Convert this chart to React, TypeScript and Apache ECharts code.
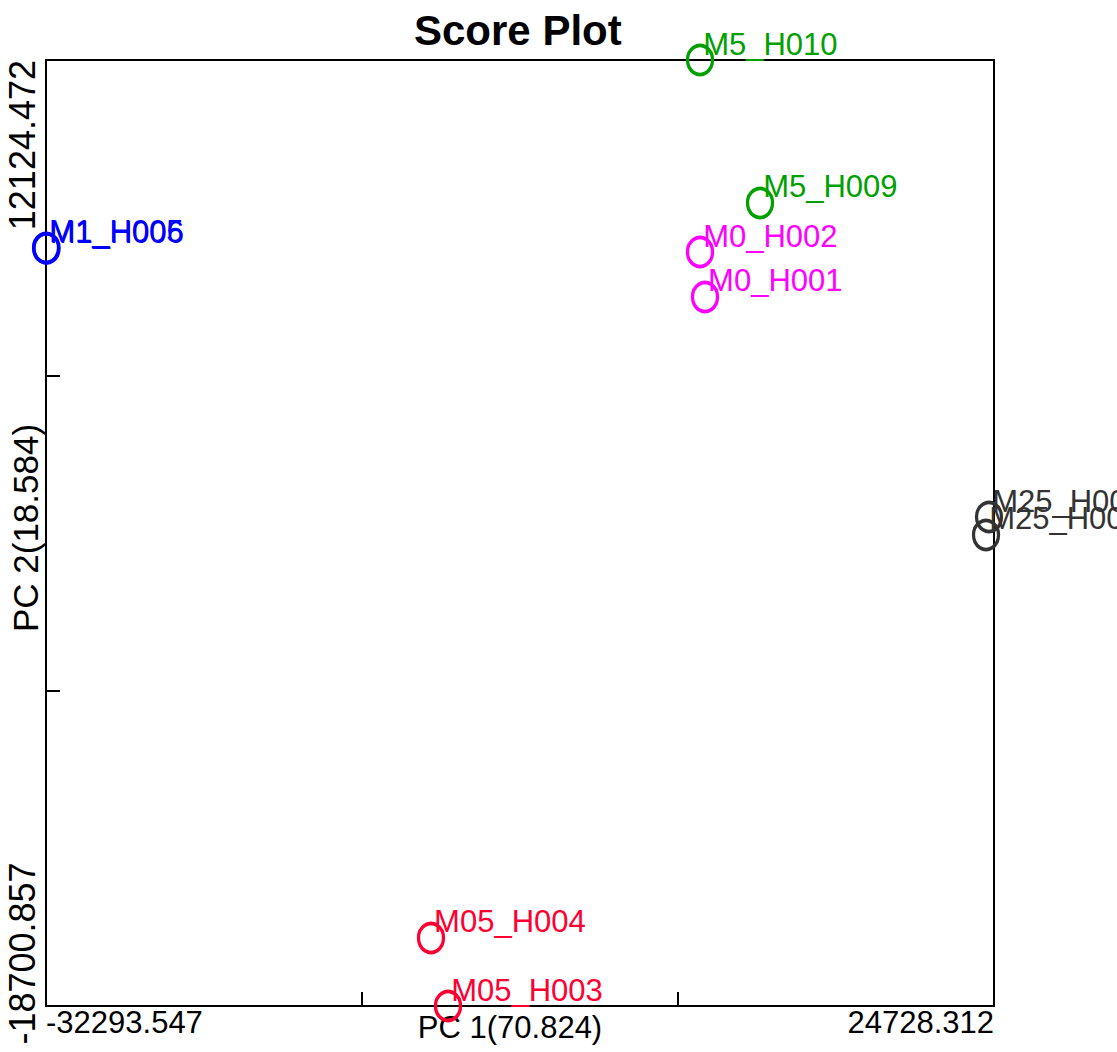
import React, { useEffect, useRef } from "react";
import * as echarts from "echarts";

const TITLE = "Score Plot";
const X_NAME = "PC 1(70.824)";
const Y_NAME = "PC 2(18.584)";
const X_MIN = -32293.547;
const X_MAX = 24728.312;
const Y_MIN = -18700.857;
const Y_MAX = 12124.472;

const GROUPS = ["M0", "M05", "M1", "M25", "M5"];
const GROUP_COLORS = ["#FF00FF", "#FF0033", "#0000FF", "#333333", "#00A000"];
const SAMPLE_NAMES = [
  ["M0_H001", "M0_H002"],
  ["M05_H003", "M05_H004"],
  ["M1_H005", "M1_H006"],
  ["M25_H007", "M25_H008"],
  ["M5_H009", "M5_H010"],
];
const PC1 = [
  [7345, 7045],
  [-8113, -9136],
  [-32293.547, -32260],
  [24428, 24248],
  [10654, 7045],
];
const PC2 = [
  [4402, 5868],
  [-18700.857, -16485],
  [6000, 5990],
  [-2767, -3353],
  [7465, 12124.472],
];

const FONT = "'Liberation Sans', Arial, sans-serif";

export default function App() {
  const ref = useRef<HTMLDivElement>(null);
  useEffect(() => {
    if (!ref.current) return;
    const chart = echarts.init(ref.current, undefined, { renderer: "svg" });
    const xr = X_MAX - X_MIN;
    const yr = Y_MAX - Y_MIN;
    const xTicks = [X_MIN, X_MIN + xr / 3, X_MIN + (2 * xr) / 3, X_MAX];
    const yTicks = [Y_MIN, Y_MIN + yr / 3, Y_MIN + (2 * yr) / 3, Y_MAX];
    const series = GROUPS.map((g, gi) => ({
      type: "scatter",
      name: g,
      symbol: "circle",
      symbolSize: [25, 29],
      itemStyle: { color: "rgba(0,0,0,0)", borderWidth: 3.5, borderColor: GROUP_COLORS[gi], opacity: 1 },
      label: {
        show: true,
        formatter: "{b}",
        position: "right",
        distance: 0,
        offset: [-11, -16],
        fontSize: 31,
        fontFamily: FONT,
        color: GROUP_COLORS[gi],
      },
      data: SAMPLE_NAMES[gi].map((n, i) => ({ name: n, value: [PC1[gi][i], PC2[gi][i]] })),
    }));
    chart.setOption({
      animation: false,
      textStyle: { fontFamily: FONT },
      title: {
        text: TITLE,
        left: 409,
        top: 4,
        textStyle: { fontSize: 42, fontWeight: "bold", color: "#000", fontFamily: FONT },
      },
      grid: {
        left: 46,
        right: 123,
        top: 60,
        bottom: 46,
        show: true,
        borderColor: "#000",
        borderWidth: 2,
        containLabel: false,
        outerBoundsMode: "none",
      },
      xAxis: {
        type: "value",
        min: X_MIN,
        max: X_MAX,
        name: X_NAME,
        nameLocation: "middle",
        nameGap: 6,
        nameMoveOverlap: false,
        nameTextStyle: { fontSize: 31, color: "#000", fontFamily: FONT, padding: [0, 20, 0, 0] },
        axisLine: { show: true, onZero: false, lineStyle: { color: "#000", width: 2 } },
        axisTick: { show: true, inside: true, length: 14, lineStyle: { color: "#000", width: 2 }, customValues: xTicks },
        splitLine: { show: false },
        axisLabel: {
          customValues: [X_MIN, X_MAX],
          formatter: (v: number) => v.toFixed(3),
          fontSize: 31,
          color: "#000",
          margin: 1,
          alignMinLabel: "left",
          alignMaxLabel: "right",
        },
      },
      yAxis: {
        type: "value",
        min: Y_MIN,
        max: Y_MAX,
        name: Y_NAME,
        nameLocation: "middle",
        nameRotate: 90,
        nameGap: 3,
        nameMoveOverlap: false,
        nameTextStyle: { fontSize: 35, color: "#000", fontFamily: FONT, padding: [0, 0, 0, 10] },
        axisLine: { show: true, onZero: false, lineStyle: { color: "#000", width: 2 } },
        axisTick: { show: true, inside: true, length: 14, lineStyle: { color: "#000", width: 2 }, customValues: yTicks },
        splitLine: { show: false },
        axisLabel: {
          customValues: [Y_MIN, Y_MAX],
          formatter: (v: number) =>
            Math.abs(v - Y_MIN) < 1e-6 ? "{lo|" + v.toFixed(3) + "}" : v.toFixed(3),
          rotate: 90,
          fontSize: 36,
          color: "#000",
          margin: 6,
          alignMinLabel: "center",
          alignMaxLabel: "right",
          rich: { lo: { fontSize: 36, color: "#000", fontFamily: FONT, padding: [0, 0, 0, 105] } },
        },
      },
      series,
    });
    return () => chart.dispose();
  }, []);
  return (
    <div
      ref={ref}
      style={{ position: "absolute", left: 0, top: 0, width: 1117, height: 1052, background: "#fff" }}
    />
  );
}
